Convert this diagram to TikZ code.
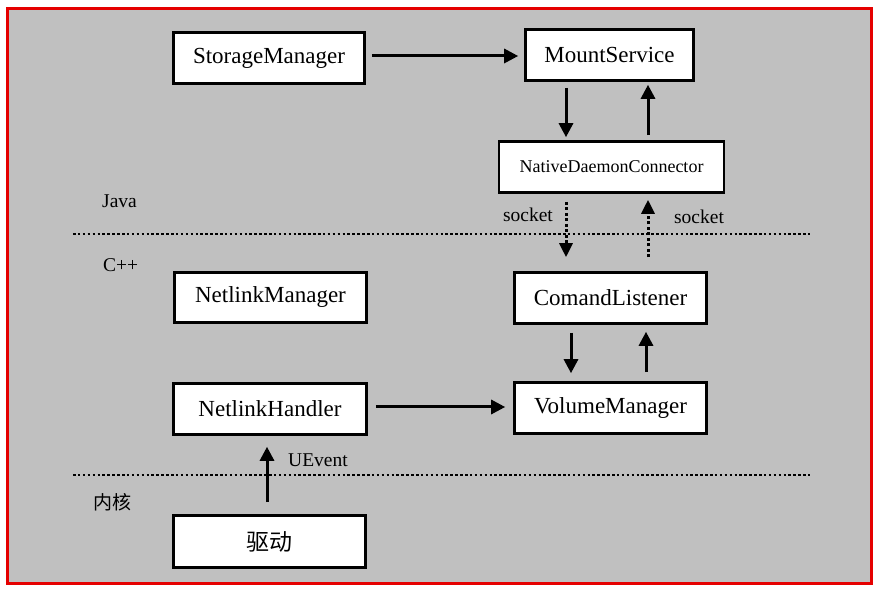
\documentclass[tikz,border=0pt]{standalone}
\usepackage{fontspec}
\setmainfont{Liberation Serif}
\newfontfamily\cjk{Noto Sans CJK SC}
\usetikzlibrary{arrows.meta,calc}
\begin{document}
\begin{tikzpicture}[x=1pt,y=-1pt,
  box/.style={draw=black,line width=2.6pt,fill=white,rectangle,inner sep=0pt,
    font=\fontsize{23}{23}\selectfont},
  lbl/.style={inner sep=0pt,font=\fontsize{19.5}{19.5}\selectfont},
  arr/.style={line width=3pt,-{Triangle[length=14pt,width=14pt]}},
  darr/.style={line width=3pt,dash pattern=on 3pt off 2.5pt,-{Triangle[length=14pt,width=13pt]}},
  sep/.style={line width=2.5pt,dash pattern=on 2.5pt off 2.4pt}]
\useasboundingbox (0,0) rectangle (881,593);
\draw[line width=3pt,draw=red!90!black,fill={rgb,255:red,192;green,192;blue,192}] (7.5,8.5) rectangle (871.5,583.5);

% boxes
\node[box,minimum width=191pt,minimum height=51pt] (SM) at (269,58) {StorageManager};
\node[box,minimum width=168pt,minimum height=51pt] (MS) at (609.5,55) {MountService};
\node[box,minimum width=225pt,minimum height=51pt,font=\fontsize{18}{18}\selectfont] (NDC) at (611.5,167) {NativeDaemonConnector};
\node[box,minimum width=192pt,minimum height=51pt] (CL) at (610.5,298) {ComandListener};
\node[box,minimum width=192pt,minimum height=50pt] (NM) at (270.5,297.5) {NetlinkManager};
\node[box,minimum width=193pt,minimum height=51pt] (NH) at (270,409) {NetlinkHandler};
\node[box,minimum width=192pt,minimum height=51pt] (VM) at (610.5,408) {VolumeManager};
\node[box,minimum width=192pt,minimum height=52pt,font=\fontsize{23}{23}\selectfont\cjk] (QD) at (269.5,541.5) {驱动};

% separators
\coordinate (s1a) at (73,234);
\coordinate (s1b) at (810,234);
\coordinate (s2a) at (73,475);
\coordinate (s2b) at (810,475);
\draw[sep] (s1a) -- (s1b);
\draw[sep] (s2a) -- (s2b);

% labels
\node[lbl,anchor=west] (java) at (102,201) {Java};
\node[lbl,anchor=west] (cpp) at (103,265) {C++};
\node[lbl,anchor=west,font=\fontsize{19}{19}\selectfont\cjk] (kern) at (93,502) {内核};
\node[lbl] (sockl) at (528,215) {socket};
\node[lbl] (sockr) at (699,217) {socket};
\node[lbl] (uev) at (318,460) {UEvent};

% helper coordinates
\coordinate (xa) at (566,0);
\coordinate (xb) at (648,0);
\coordinate (xc) at (571,0);
\coordinate (xd) at (646,0);
\coordinate (xe) at (267,0);
\coordinate (ya) at (0,56);
\coordinate (yb) at (0,407);

% connectors
\draw[arr,shorten <=6pt,shorten >=6pt] (SM.east |- ya) -- (MS.west |- ya);
\draw[arr,shorten <=6pt,shorten >=3pt] (MS.south -| xa) -- (NDC.north -| xa);
\draw[arr,shorten <=5pt,shorten >=3pt] (NDC.north -| xb) -- (MS.south -| xb);
\draw[darr,shorten <=8pt,shorten >=14pt] (NDC.south -| xa) -- (CL.north -| xa);
\draw[darr,shorten <=14pt,shorten >=6pt] (CL.north -| xb) -- (NDC.south -| xb);
\draw[arr,shorten <=8pt,shorten >=8pt] (CL.south -| xc) -- (VM.north -| xc);
\draw[arr,shorten <=9pt,shorten >=7pt] (VM.north -| xd) -- (CL.south -| xd);
\draw[arr,shorten <=8pt,shorten >=8pt] (NH.east |- yb) -- (VM.west |- yb);
\draw[arr,shorten <=12pt,shorten >=11pt] (QD.north -| xe) -- (NH.south -| xe);
\end{tikzpicture}
\end{document}
